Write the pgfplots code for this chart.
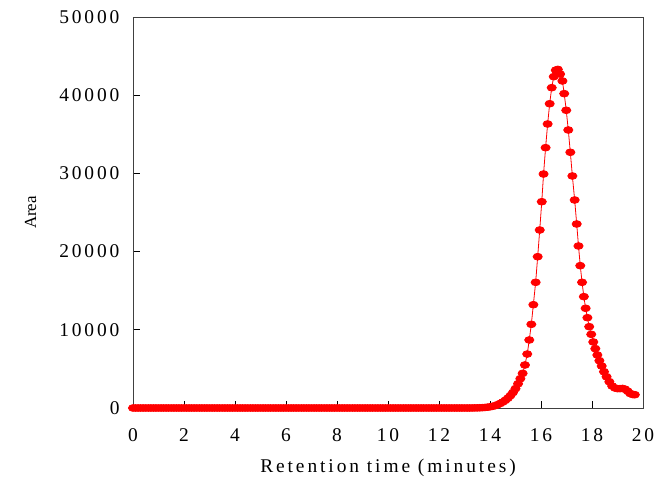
\documentclass[border=0pt]{standalone}
\usepackage{fontspec}
\setmainfont{Liberation Serif}
\newfontfamily\spaced[LetterSpace=15]{Liberation Serif}
\usepackage{pgfplots}
\pgfplotsset{compat=1.18}
\definecolor{axgray}{RGB}{64,64,64}
\begin{document}
\begin{tikzpicture}
\useasboundingbox (-133bp,-69bp) rectangle (526bp,408bp);
\begin{axis}[
  scale only axis,
  width=510bp, height=391bp,
  at={(0,0)}, anchor=south west,
  xmin=0, xmax=20, ymin=0, ymax=50000,
  xtick={0,2,...,20},
  ytick={0,10000,...,50000},
  scaled y ticks=false,
  tick align=inside,
  xtick pos=bottom, ytick pos=left,
  major tick length=7bp,
  axis line style={axgray, line width=0.8pt},
  tick style={black, line width=0.8pt},
  /pgf/number format/assume math mode=true,
  /pgf/number format/set thousands separator={},
  ticklabel style={font={\fontsize{19.5}{23}\selectfont\spaced}},
  xticklabel style={yshift=-17bp},
  yticklabel style={xshift=-10bp},
  xlabel={Retention time (minutes)},
  ylabel={Area},
  xlabel style={font={\fontsize{19.5}{23}\selectfont\spaced}, yshift=-11bp},
  ylabel style={font={\fontsize{17}{20}\selectfont}, yshift=16bp},
  clip=false,
]
\addplot[red, line width=0.8pt, mark=*, mark size=3.4bp, mark options={xscale=1.35, fill=red, draw=red}] table {
x y
0.0 0
0.1 0
0.2 0
0.3 0
0.4 0
0.5 0
0.6 0
0.7 0
0.8 0
0.9 0
1.0 0
1.1 0
1.2 0
1.3 0
1.4 0
1.5 0
1.6 0
1.7 0
1.8 0
1.9 0
2.0 0
2.1 0
2.2 0
2.3 0
2.4 0
2.5 0
2.6 0
2.7 0
2.8 0
2.9 0
3.0 0
3.1 0
3.2 0
3.3 0
3.4 0
3.5 0
3.6 0
3.7 0
3.8 0
3.9 0
4.0 0
4.1 0
4.2 0
4.3 0
4.4 0
4.5 0
4.6 0
4.7 0
4.8 0
4.9 0
5.0 0
5.1 0
5.2 0
5.3 0
5.4 0
5.5 0
5.6 0
5.7 0
5.8 0
5.9 0
6.0 0
6.1 0
6.2 0
6.3 0
6.4 0
6.5 0
6.6 0
6.7 0
6.8 0
6.9 0
7.0 0
7.1 0
7.2 0
7.3 0
7.4 0
7.5 0
7.6 0
7.7 0
7.8 0
7.9 0
8.0 0
8.1 0
8.2 0
8.3 0
8.4 0
8.5 0
8.6 0
8.7 0
8.8 0
8.9 0
9.0 0
9.1 0
9.2 0
9.3 0
9.4 0
9.5 0
9.6 0
9.7 0
9.8 0
9.9 0
10.0 0
10.1 0
10.2 0
10.3 0
10.4 0
10.5 0
10.6 0
10.7 0
10.8 0
10.9 0
11.0 0
11.1 0
11.2 0
11.3 0
11.4 0
11.5 0
11.6 0
11.7 0
11.8 0
11.9 0
12.0 0
12.1 0
12.2 0
12.3 0
12.4 0
12.5 0
12.6 0
12.7 0
12.8 0
12.9 0
13.0 0
13.1 0
13.2 0
13.3 5
13.4 10
13.5 18
13.6 28
13.7 45
13.8 70
13.9 105
14.0 150
14.1 215
14.2 300
14.3 430
14.4 580
14.5 760
14.6 980
14.7 1250
14.8 1580
14.9 1980
15.0 2480
15.1 3100
15.19 3750
15.28 4430
15.37 5500
15.46 6900
15.54 8700
15.62 10700
15.70 13210
15.79 16070
15.87 19350
15.95 22760
16.03 26380
16.10 29920
16.18 33290
16.26 36320
16.34 38910
16.42 40960
16.50 42370
16.58 43200
16.66 43300
16.75 42700
16.84 41820
16.91 40200
16.99 38070
17.07 35550
17.15 32700
17.23 29670
17.32 26600
17.40 23530
17.47 20720
17.54 18200
17.61 16070
17.68 14240
17.75 12750
17.82 11550
17.89 10400
17.97 9420
18.05 8440
18.13 7590
18.21 6780
18.29 6050
18.38 5370
18.47 4640
18.57 4000
18.68 3360
18.79 2810
18.90 2560
19.00 2480
19.10 2480
19.20 2500
19.30 2400
19.40 2150
19.50 1850
19.60 1720
19.68 1700
};
\end{axis}
\end{tikzpicture}
\end{document}
